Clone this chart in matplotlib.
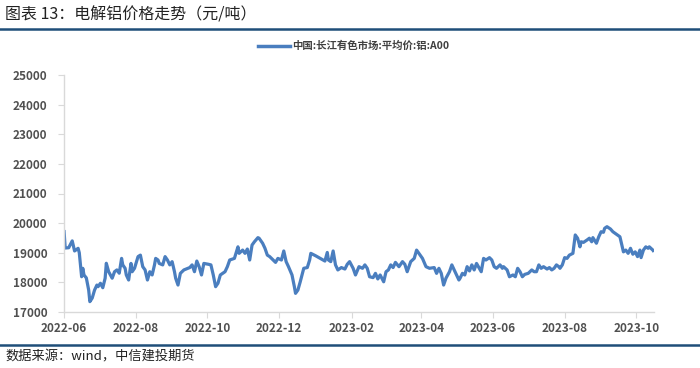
import matplotlib
matplotlib.use("Agg")
import matplotlib.pyplot as plt
import matplotlib.dates as mdates
import pandas as pd
from matplotlib.lines import Line2D

plt.rcParams['font.family'] = ['Noto Sans CJK SC', 'DejaVu Sans']

title = "图表 13：电解铝价格走势（元/吨）"
source = "数据来源：wind，中信建投期货"
series_name = "中国:长江有色市场:平均价:铝:A00"

dates = [
    "2022-06-01", "2022-06-02", "2022-06-05", "2022-06-08", "2022-06-10", "2022-06-13", "2022-06-14",
    "2022-06-16", "2022-06-17", "2022-06-18", "2022-06-20", "2022-06-22", "2022-06-23", "2022-06-25",
    "2022-06-27", "2022-06-29", "2022-06-30", "2022-07-02", "2022-07-04", "2022-07-06", "2022-07-07",
    "2022-07-09", "2022-07-12", "2022-07-14", "2022-07-16", "2022-07-18", "2022-07-20", "2022-07-21",
    "2022-07-23", "2022-07-24", "2022-07-26", "2022-07-28", "2022-07-29", "2022-07-31", "2022-08-03",
    "2022-08-05", "2022-08-07", "2022-08-09", "2022-08-11", "2022-08-13", "2022-08-15", "2022-08-17",
    "2022-08-18", "2022-08-20",
    "2022-08-21", "2022-08-24", "2022-08-26", "2022-08-28", "2022-08-30", "2022-09-01", "2022-09-03",
    "2022-09-04", "2022-09-06", "2022-09-08", "2022-09-11", "2022-09-16", "2022-09-18", "2022-09-20",
    "2022-09-22", "2022-09-24", "2022-09-26", "2022-09-28", "2022-10-02", "2022-10-04", "2022-10-06",
    "2022-10-08", "2022-10-10", "2022-10-12", "2022-10-16", "2022-10-18", "2022-10-20", "2022-10-24",
    "2022-10-27", "2022-10-28", "2022-10-31", "2022-11-02", "2022-11-04", "2022-11-06", "2022-11-08",
    "2022-11-10", "2022-11-13",
    "2022-11-14", "2022-11-17", "2022-11-19", "2022-11-21", "2022-11-23", "2022-11-26", "2022-11-28",
    "2022-11-30", "2022-12-03", "2022-12-05", "2022-12-07", "2022-12-09", "2022-12-12", "2022-12-14",
    "2022-12-15", "2022-12-17", "2022-12-19", "2022-12-22", "2022-12-25", "2022-12-27", "2022-12-28",
    "2023-01-01", "2023-01-05", "2023-01-09", "2023-01-11", "2023-01-12", "2023-01-14", "2023-01-16",
    "2023-01-18", "2023-01-20", "2023-01-23", "2023-01-26", "2023-01-28", "2023-01-30", "2023-02-02",
    "2023-02-04", "2023-02-07",
    "2023-02-10", "2023-02-12", "2023-02-14", "2023-02-16", "2023-02-19", "2023-02-21", "2023-02-23",
    "2023-02-25", "2023-02-28", "2023-03-02", "2023-03-04", "2023-03-06", "2023-03-08", "2023-03-10",
    "2023-03-13", "2023-03-16", "2023-03-18", "2023-03-20", "2023-03-23", "2023-03-26", "2023-03-28",
    "2023-03-31", "2023-04-02", "2023-04-05", "2023-04-08", "2023-04-12", "2023-04-14", "2023-04-16",
    "2023-04-18", "2023-04-20", "2023-04-22", "2023-04-25", "2023-04-27", "2023-04-29", "2023-05-01",
    "2023-05-03",
    "2023-05-04", "2023-05-06", "2023-05-08", "2023-05-10", "2023-05-12", "2023-05-14", "2023-05-16",
    "2023-05-18", "2023-05-20", "2023-05-22", "2023-05-24", "2023-05-26", "2023-05-29", "2023-05-31",
    "2023-06-02", "2023-06-04", "2023-06-07", "2023-06-09", "2023-06-10", "2023-06-13", "2023-06-15",
    "2023-06-18", "2023-06-20", "2023-06-22", "2023-06-24", "2023-06-26", "2023-06-28", "2023-07-01",
    "2023-07-04", "2023-07-06", "2023-07-08", "2023-07-10", "2023-07-12", "2023-07-14", "2023-07-17",
    "2023-07-19", "2023-07-21", "2023-07-23", "2023-07-25", "2023-07-27",
    "2023-07-28", "2023-07-30", "2023-08-01", "2023-08-03", "2023-08-05", "2023-08-08", "2023-08-10",
    "2023-08-12", "2023-08-14", "2023-08-15", "2023-08-17", "2023-08-20", "2023-08-22", "2023-08-24",
    "2023-08-25", "2023-08-28", "2023-08-30", "2023-09-01", "2023-09-03", "2023-09-04", "2023-09-06",
    "2023-09-09", "2023-09-11", "2023-09-14", "2023-09-17", "2023-09-18", "2023-09-20", "2023-09-22",
    "2023-09-24", "2023-09-26", "2023-09-28", "2023-09-30", "2023-10-02", "2023-10-04", "2023-10-05",
    "2023-10-07", "2023-10-09", "2023-10-11", "2023-10-12", "2023-10-15", "2023-10-16",
]

prices = [
    19768, 19160, 19170, 19400, 19060, 19150, 19000,
    18190, 18475, 18250, 18150, 17740, 17350, 17470,
    17740, 17910, 17855, 17970, 17820, 18140, 18645,
    18360, 18140, 18360, 18420, 18310, 18810, 18590,
    18475, 18250, 18080, 18640, 18360, 18475, 18870,
    18920, 18530, 18420, 18080, 18360, 18250, 18590,
    18810, 18755,
    18640, 18590, 18870, 18755, 18590, 18700, 18360,
    18140, 17910, 18305, 18420, 18500, 18590, 18360,
    18720, 18530, 18250, 18640, 18610, 18590, 18250,
    17855, 17970, 18250, 18360, 18530, 18755, 18810,
    19200, 18980, 19090, 18980, 19125, 18755, 19260,
    19370, 19510,
    19490, 19320, 19150, 18920, 18870, 18755, 18675,
    18810, 18755, 19060, 18700, 18530, 18250, 17855,
    17630, 17740, 18020, 18475, 18500, 18755, 18980,
    18900, 18810, 18720, 19010, 18755, 18700, 19060,
    18590, 18420, 18500, 18450, 18610, 18700, 18475,
    18250, 18530,
    18475, 18590, 18475, 18190, 18160, 18305, 18115,
    18250, 18020, 18360, 18420, 18590, 18500, 18675,
    18530, 18700, 18610, 18360, 18700, 18810, 19090,
    18920, 18810, 18530, 18475, 18500, 18305, 18475,
    18305, 17910, 18140, 18360, 18590, 18420, 18250,
    18080,
    18140, 18305, 18250, 18530, 18385, 18590, 18420,
    18640, 18500, 18360, 18810, 18755, 18835, 18755,
    18530, 18475, 18590, 18475, 18530, 18420, 18190,
    18250, 18190, 18475, 18360, 18190, 18270, 18305,
    18420, 18360, 18360, 18590, 18475, 18530, 18450,
    18500, 18420, 18475, 18590, 18530,
    18475, 18590, 18835, 18810, 18920, 18980, 19600,
    19490, 19200, 19370, 19350, 19430, 19490, 19370,
    19510, 19320, 19540, 19710, 19690, 19825, 19880,
    19800, 19710, 19625, 19540, 19370, 19030, 19090,
    18980, 19150, 18950, 19030, 18870, 19090, 18835,
    19090, 19200, 19150, 19200, 19090, 19030,
]

y_ticks = [17000, 18000, 19000, 20000, 21000, 22000, 23000, 24000, 25000]
x_ticks = ["2022-06", "2022-08", "2022-10", "2022-12", "2023-02", "2023-04",
           "2023-06", "2023-08", "2023-10"]

line_color = "#4a7ebf"
text_color = "#505050"
rule_color = "#1f4e79"

fig = plt.figure(figsize=(7.0, 3.68), dpi=100)
ax = fig.add_axes([64/700, 1-312/368, (654-64)/700, (312-75)/368])

d = pd.to_datetime(dates)
ax.plot(d, prices, color=line_color, lw=2.3, solid_joinstyle='round',
        solid_capstyle='butt')

ax.set_ylim(17000, 25000)
ax.set_yticks(y_ticks)
ax.set_yticklabels([str(v) for v in y_ticks])
ax.set_xlim(pd.Timestamp("2022-06-01"), pd.Timestamp(dates[-1]))
xt = pd.to_datetime([s + "-01" for s in x_ticks])
ax.set_xticks(xt)
ax.set_xticklabels(x_ticks)

for s in ["top", "right"]:
    ax.spines[s].set_visible(False)
for s in ["left", "bottom"]:
    ax.spines[s].set_color("#d9d9d9")
    ax.spines[s].set_linewidth(1.0)
ax.tick_params(axis='both', colors="#d9d9d9", length=4, width=0.8,
               labelcolor=text_color, labelsize=8.5)
ax.tick_params(axis='y', pad=8)
ax.tick_params(axis='x', pad=3)
for lab in ax.get_xticklabels() + ax.get_yticklabels():
    lab.set_fontweight('bold')

# title and rules
fig.text(5/700, 1-15/368, title, fontsize=11.5, color="#222222", va='center', ha='left')
fig.add_artist(Line2D([0, 1], [1-29/368, 1-29/368], color=rule_color, lw=1.8))
fig.add_artist(Line2D([0, 1], [1-345/368, 1-345/368], color=rule_color, lw=1.8))
fig.text(5/700, 1-357/368, source, fontsize=9.5, color="#222222", va='center',
         ha='left', style='italic')

# legend
fig.add_artist(Line2D([258/700, 290/700], [1-46/368, 1-46/368], color=line_color, lw=2.5))
fig.text(292/700, 1-46/368, series_name, fontsize=7.5, color="#404040",
         va='center', ha='left', fontweight='bold')

fig.savefig("out.png", dpi=100)
